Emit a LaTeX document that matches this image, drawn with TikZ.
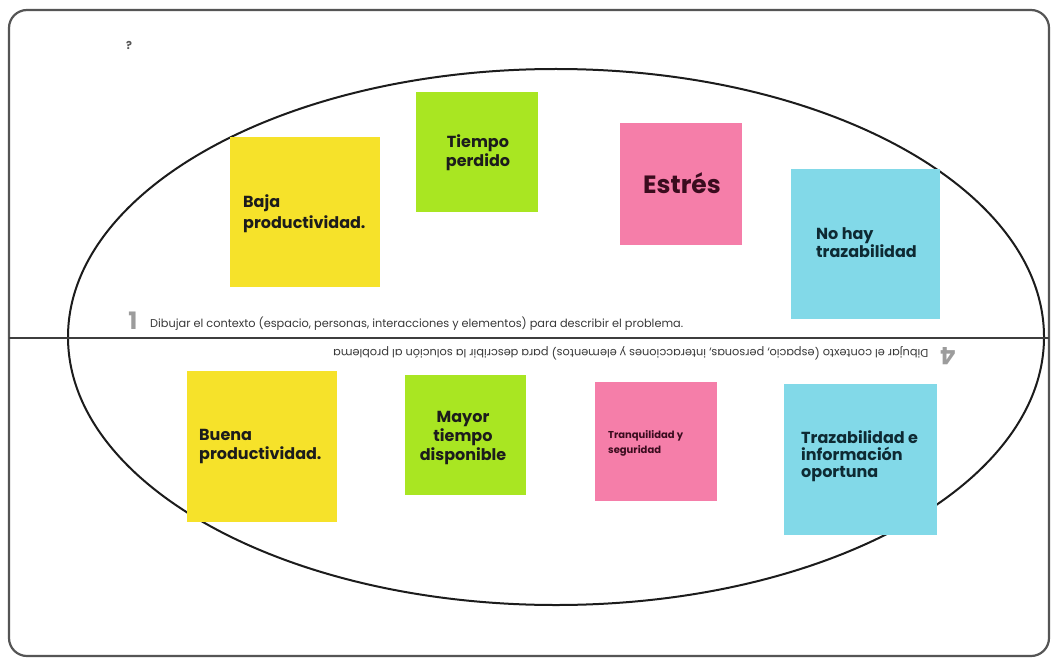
\documentclass[tikz,border=0pt]{standalone}
\usepackage{fontspec}
\usepackage{graphicx}
\setmainfont{Poppins}
\definecolor{frameGray}{HTML}{555555}
\definecolor{ink}{HTML}{1C1C1C}
\definecolor{noteYellow}{HTML}{F6E22A}
\definecolor{noteGreen}{HTML}{A9E622}
\definecolor{notePink}{HTML}{F57EA9}
\definecolor{noteCyan}{HTML}{82D9E8}
\definecolor{pinkInk}{HTML}{3A0C1E}
\definecolor{cyanInk}{HTML}{0E2A33}
\definecolor{smallInk}{HTML}{383838}
\definecolor{stepGray}{HTML}{9C9C9C}
\tikzset{
  sticky/.style={rectangle, inner sep=0pt, draw=none},
  notetext/.style={inner sep=0pt, font=\bfseries\fontsize{16}{19}\selectfont, text=ink},
  lefttext/.style={notetext, anchor=north west, align=left},
  midtext/.style={notetext, anchor=north, align=center},
  stepnum/.style={text=stepGray, font=\bfseries\fontsize{24}{24}\selectfont, anchor=center, inner sep=0pt},
}
\begin{document}
\begin{tikzpicture}[x=1pt,y=-1pt]
\useasboundingbox (0,0) rectangle (1056,663);
\fill[white] (0,0) rectangle (1056,663);

% outer board
\draw[frameGray, line width=2.2pt, rounded corners=18pt] (9,10) rectangle (1049,656);
\node[text=frameGray, font=\bfseries\fontsize{11}{12}\selectfont] (mark) at (129,45) {?};

% problem / solution ellipse and divider
\draw[ink, line width=2pt] (556,337) ellipse [x radius=488, y radius=268];
\coordinate (divL) at (9,338);
\coordinate (divR) at (1049,338);
\draw[ink!85, line width=2.6pt] (divL) -- (divR);

% step captions
\node[stepnum] (one) at (133,321) {1};
\node[text=smallInk, anchor=west, inner sep=0pt] (cap1) at (150,324)
  {\resizebox{533pt}{!}{\fontsize{8}{9}\selectfont Dibujar el contexto (espacio, personas, interacciones y elementos) para describir el problema.}};
\node[stepnum, rotate=180] (four) at (948,356) {4};
\node[text=smallInk, anchor=east, inner sep=0pt, rotate=180] (cap4) at (333,353)
  {\resizebox{595pt}{!}{\fontsize{8}{9}\selectfont Dibujar el contexto (espacio, personas, interacciones y elementos) para describir la solución al problema}};

% problem notes
\node[sticky, fill=noteYellow, minimum width=150pt, minimum height=150pt] (baja) at (305,212) {};
\node[sticky, fill=noteGreen, minimum width=122pt, minimum height=120pt] (tiempo) at (477,152) {};
\node[sticky, fill=notePink, minimum width=122pt, minimum height=121pt] (estres) at (681,184) {};
\node[sticky, fill=noteCyan, minimum width=149pt, minimum height=149pt] (traza) at (865,244) {};

\node[lefttext, font=\bfseries\fontsize{16}{21}\selectfont] (bajaT) at (243,194) {Baja\\productividad.};
\node[midtext] (tiempoT) at (478,134) {Tiempo\\perdido};
\node[notetext, font=\bfseries\fontsize{25}{28}\selectfont, text=pinkInk] (estresT) at (682,183) {Estrés};
\node[lefttext, text=cyanInk, font=\bfseries\fontsize{16}{18}\selectfont] (trazaT) at (816,227) {No hay\\trazabilidad};

% solution notes
\node[sticky, fill=noteYellow, minimum width=150pt, minimum height=151pt] (buena) at (262,446) {};
\node[sticky, fill=noteGreen, minimum width=121pt, minimum height=120pt] (mayor) at (465,435) {};
\node[sticky, fill=notePink, minimum width=122pt, minimum height=119pt] (tranq) at (656,441) {};
\node[sticky, fill=noteCyan, minimum width=153pt, minimum height=151pt] (info) at (860,459) {};

\node[lefttext] (buenaT) at (199,429) {Buena\\productividad.};
\node[midtext] (mayorT) at (463,411) {Mayor\\tiempo\\disponible};
\node[lefttext, font=\bfseries\fontsize{10}{15}\selectfont, text=pinkInk] (tranqT) at (608,430) {Tranquilidad y\\seguridad};
\node[lefttext, text=cyanInk, font=\bfseries\fontsize{16}{17}\selectfont] (infoT) at (801,430) {Trazabilidad e\\información\\oportuna};
\end{tikzpicture}
\end{document}
